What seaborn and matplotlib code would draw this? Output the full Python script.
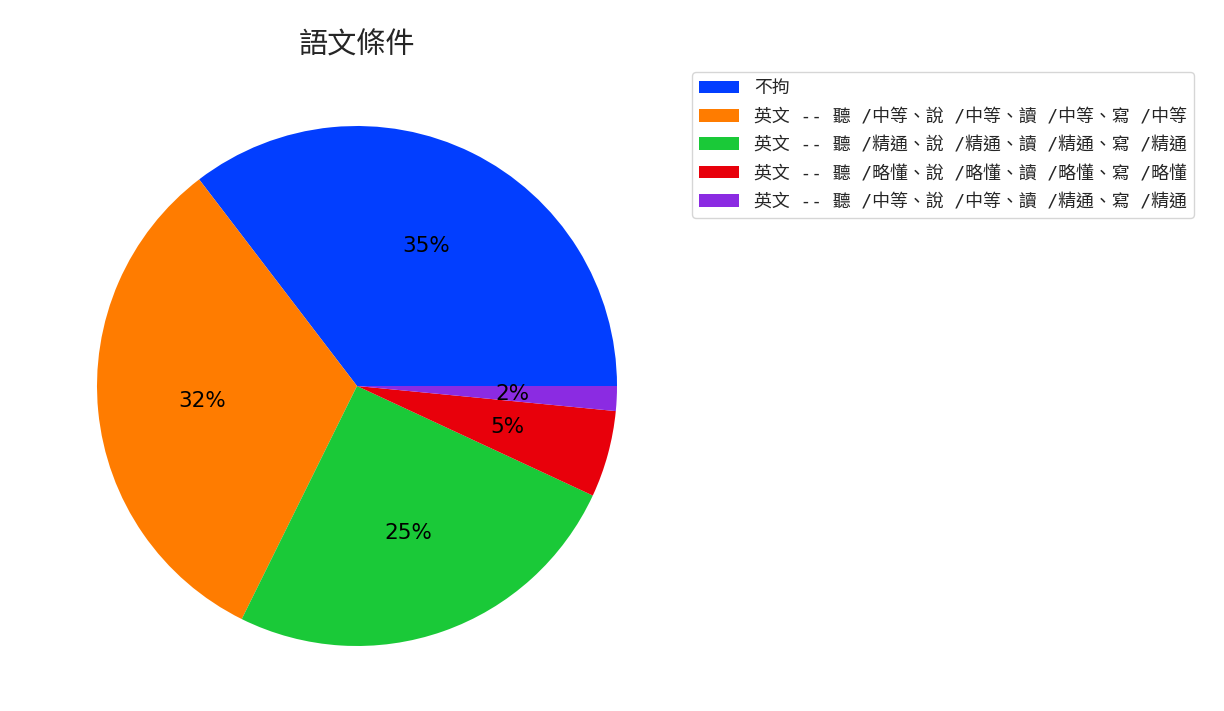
import matplotlib
matplotlib.use("Agg")
import matplotlib.pyplot as plt
import seaborn as sns

categories = [
    "不拘",
    "英文 -- 聽 /中等、說 /中等、讀 /中等、寫 /中等",
    "英文 -- 聽 /精通、說 /精通、讀 /精通、寫 /精通",
    "英文 -- 聽 /略懂、說 /略懂、讀 /略懂、寫 /略懂",
    "英文 -- 聽 /中等、說 /中等、讀 /精通、寫 /精通",
]
counts = [46, 42, 33, 7, 2]
title = "語文條件"

sns.set_theme(style="white")
plt.rcParams["font.family"] = ["DejaVu Sans", "Noto Sans CJK TC"]

colors = sns.color_palette("bright", len(categories))

fig = plt.figure(figsize=(12.24, 7.11), dpi=100)
ax = fig.add_axes([32 / 1224, 0.0, 650 / 1224, 650 / 711])
wedges, texts, autotexts = ax.pie(
    counts,
    colors=colors,
    autopct="%.0f%%",
    startangle=0,
    wedgeprops={"linewidth": 0, "edgecolor": "none"},
    textprops={"fontsize": 15.5, "color": "black"},
)
ax.set_title(title, fontsize=21, family=["Noto Sans CJK TC", "DejaVu Sans"], pad=4)
fig.legend(
    wedges,
    categories,
    loc="upper left",
    bbox_to_anchor=(692 / 1224, 1 - 72 / 711),
    bbox_transform=fig.transFigure,
    borderaxespad=0,
    handlelength=2.25,
    labelspacing=0.58,
    prop={"family": ["DejaVu Sans Mono", "Noto Sans CJK TC"], "size": 12.9},
)
fig.savefig("out.png", dpi=100)
